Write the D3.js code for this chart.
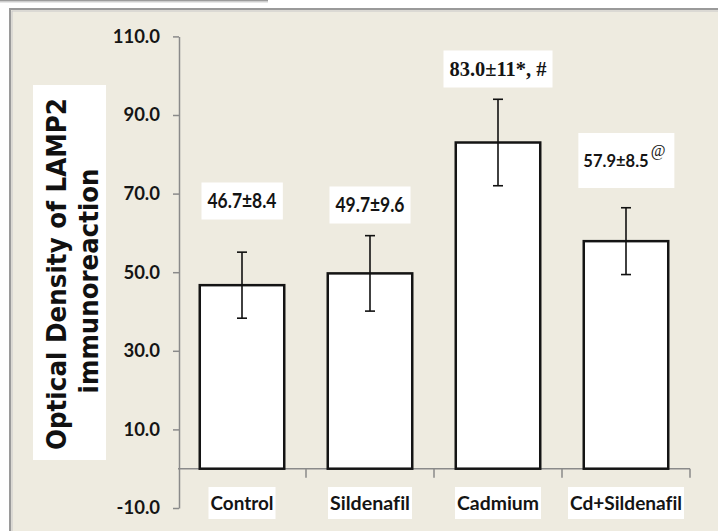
<!DOCTYPE html>
<html>
<head>
<meta charset="utf-8">
<script src="https://cdn.jsdelivr.net/npm/d3@7"></script>
<style>
  html, body { margin: 0; padding: 0; background: #ffffff; }
  svg { display: block; }
  svg text { font-variant-ligatures: none; font-feature-settings: "liga" 0; }
</style>
</head>
<body>
<svg id="chart" width="718" height="531"></svg>
<script>
// ---- data ----
const categories = ["Control", "Sildenafil", "Cadmium", "Cd+Sildenafil"];
const means = [46.7, 49.7, 83.0, 57.9];
const sds = [8.4, 9.6, 11, 8.5];
const valueLabels = ["46.7±8.4", "49.7±9.6", "83.0±11*, #", "57.9±8.5"];
const valueSuffix = ["", "", "", "@"];
const yTicks = [-10, 10, 30, 50, 70, 90, 110];
const yTitleLines = ["Optical Density of LAMP2", "immunoreaction"];

// ---- layout ----
const W = 718, H = 531;
const plot = { left: 178, right: 690, top: 36.4, bottom: 508 };
const labelCenterY = [201, 205, 69, 161];
const labelWidths = [69, 69, 97, null];
const catWidths = [63, 80, 82, 112];
const bg = "#EEEBE0";

const svg = d3.select("#chart");

// page chrome
svg.append("rect").attr("x", 0).attr("y", 0).attr("width", 268).attr("height", 1.5).attr("fill", "#9c9c9c");
svg.append("rect").attr("x", 0).attr("y", 1.5).attr("width", 268).attr("height", 1).attr("fill", "#d0d0d0");
svg.append("rect").attr("x", 10).attr("y", 9).attr("width", W + 20).attr("height", H + 20)
  .attr("fill", bg).attr("stroke", "#9a9a9a").attr("stroke-width", 2);
svg.append("rect").attr("x", 12).attr("y", 11).attr("width", W + 20).attr("height", H + 20)
  .attr("fill", "none").attr("stroke", "#c8c8c8").attr("stroke-width", 1);

// scales
const y = d3.scaleLinear().domain([-10, 110]).range([plot.bottom, plot.top]);
const x = d3.scaleBand().domain(categories).range([plot.left, plot.right])
  .paddingInner(0.34).paddingOuter(0.17);

const axisColor = "#8a8a8a";

// y axis
const yAxis = svg.append("g").attr("transform", `translate(${plot.left + 1},0)`)
  .call(d3.axisLeft(y).tickValues(yTicks).tickSize(6).tickSizeOuter(0).tickPadding(13)
    .tickFormat(d => d.toFixed(1)));
yAxis.select(".domain").attr("stroke", axisColor).attr("stroke-width", 1.5);
yAxis.selectAll(".tick line").attr("stroke", axisColor).attr("stroke-width", 1.5);
yAxis.selectAll(".tick text").attr("font-family", "Lato, 'DejaVu Sans', sans-serif")
  .attr("font-weight", "bold").attr("font-size", 18.5).attr("fill", "#151515");

// x axis line and boundary ticks
const y0 = y(0);
svg.append("line").attr("x1", plot.left).attr("x2", plot.right).attr("y1", y0).attr("y2", y0)
  .attr("stroke", axisColor).attr("stroke-width", 1.5);
svg.selectAll(".xtick").data(categories).enter().append("line")
  .attr("x1", (d, i) => plot.left + (i + 1) * x.step())
  .attr("x2", (d, i) => plot.left + (i + 1) * x.step())
  .attr("y1", y0).attr("y2", y0 + 9)
  .attr("stroke", axisColor).attr("stroke-width", 1.5);

// bars
svg.selectAll(".bar").data(categories).enter().append("rect")
  .attr("x", d => x(d)).attr("width", x.bandwidth())
  .attr("y", (d, i) => y(means[i])).attr("height", (d, i) => y(0) - y(means[i]))
  .attr("fill", "#ffffff").attr("stroke", "#141414").attr("stroke-width", 2.5);

// error bars
const cx = d => x(d) + x.bandwidth() / 2;
const eb = svg.append("g").attr("stroke", "#111").attr("stroke-width", 1.6);
categories.forEach((c, i) => {
  const top = y(means[i] + sds[i]), bot = y(means[i] - sds[i]);
  eb.append("line").attr("x1", cx(c)).attr("x2", cx(c)).attr("y1", top).attr("y2", bot);
  eb.append("line").attr("x1", cx(c) - 5).attr("x2", cx(c) + 5).attr("y1", top).attr("y2", top);
  eb.append("line").attr("x1", cx(c) - 5).attr("x2", cx(c) + 5).attr("y1", bot).attr("y2", bot);
});

// value labels
categories.forEach((c, i) => {
  const g = svg.append("g");
  const serif = i === 2;
  const hasSup = !!valueSuffix[i];
  const shift = hasSup ? 10 : 0;
  const t = g.append("text")
    .attr("x", cx(c) - shift)
    .attr("y", labelCenterY[i])
    .attr("dy", "0.36em")
    .attr("text-anchor", "middle")
    .attr("font-family", serif ? "'Liberation Serif', serif" : "Lato, 'DejaVu Sans', sans-serif")
    .attr("font-weight", "bold")
    .attr("font-size", hasSup ? 16.5 : 20)
    .attr("fill", "#141414")
    .text(valueLabels[i]);
  if (labelWidths[i]) t.attr("textLength", labelWidths[i]).attr("lengthAdjust", "spacingAndGlyphs");
  let right = t.node().getBBox();
  let x0 = right.x, x1 = right.x + right.width;
  if (hasSup) {
    const s = g.append("text")
      .attr("x", x1 + 2)
      .attr("y", labelCenterY[i] - 5)
      .attr("font-family", "'Liberation Serif', serif")
      .attr("font-size", 16)
      .attr("fill", "#141414")
      .text(valueSuffix[i]);
    const b2 = s.node().getBBox();
    x1 = b2.x + b2.width;
  }
  const padX = hasSup ? 5 : 6;
  g.insert("rect", ":first-child")
    .attr("x", x0 - padX).attr("y", labelCenterY[i] - (hasSup ? 28 : 18.5))
    .attr("width", x1 - x0 + 2 * padX + (hasSup ? 4 : 0)).attr("height", hasSup ? 55 : 37)
    .attr("fill", "#fff");
});

// category labels
categories.forEach((c, i) => {
  const g = svg.append("g");
  const t = g.append("text")
    .attr("x", cx(c)).attr("y", 503).attr("dy", "0.36em")
    .attr("text-anchor", "middle")
    .attr("font-family", "Lato, 'DejaVu Sans', sans-serif")
    .attr("font-weight", "bold").attr("font-size", 19)
    .attr("fill", "#141414")
    .attr("textLength", catWidths[i]).attr("lengthAdjust", "spacingAndGlyphs")
    .text(c);
  const b = t.node().getBBox();
  g.insert("rect", ":first-child")
    .attr("x", b.x - 2).attr("y", 487)
    .attr("width", b.width + 4).attr("height", 32).attr("fill", "#fff");
});

// y-axis title
const tg = svg.append("g");
tg.append("rect").attr("x", 33).attr("y", 85).attr("width", 73).attr("height", 375).attr("fill", "#fff");
const titleX = [56, 88];
const titleLen = [352, 225];
const titleY = [274, 281];
yTitleLines.forEach((line, i) => {
  tg.append("text")
    .attr("transform", `translate(${titleX[i]},${titleY[i]}) rotate(-90)`)
    .attr("text-anchor", "middle").attr("dy", "0.36em")
    .attr("font-family", "'DejaVu Sans', Verdana, sans-serif")
    .attr("font-weight", "bold").attr("font-size", 27)
    .attr("fill", "#111")
    .attr("textLength", titleLen[i]).attr("lengthAdjust", "spacingAndGlyphs")
    .text(line);
});
</script>
</body>
</html>
